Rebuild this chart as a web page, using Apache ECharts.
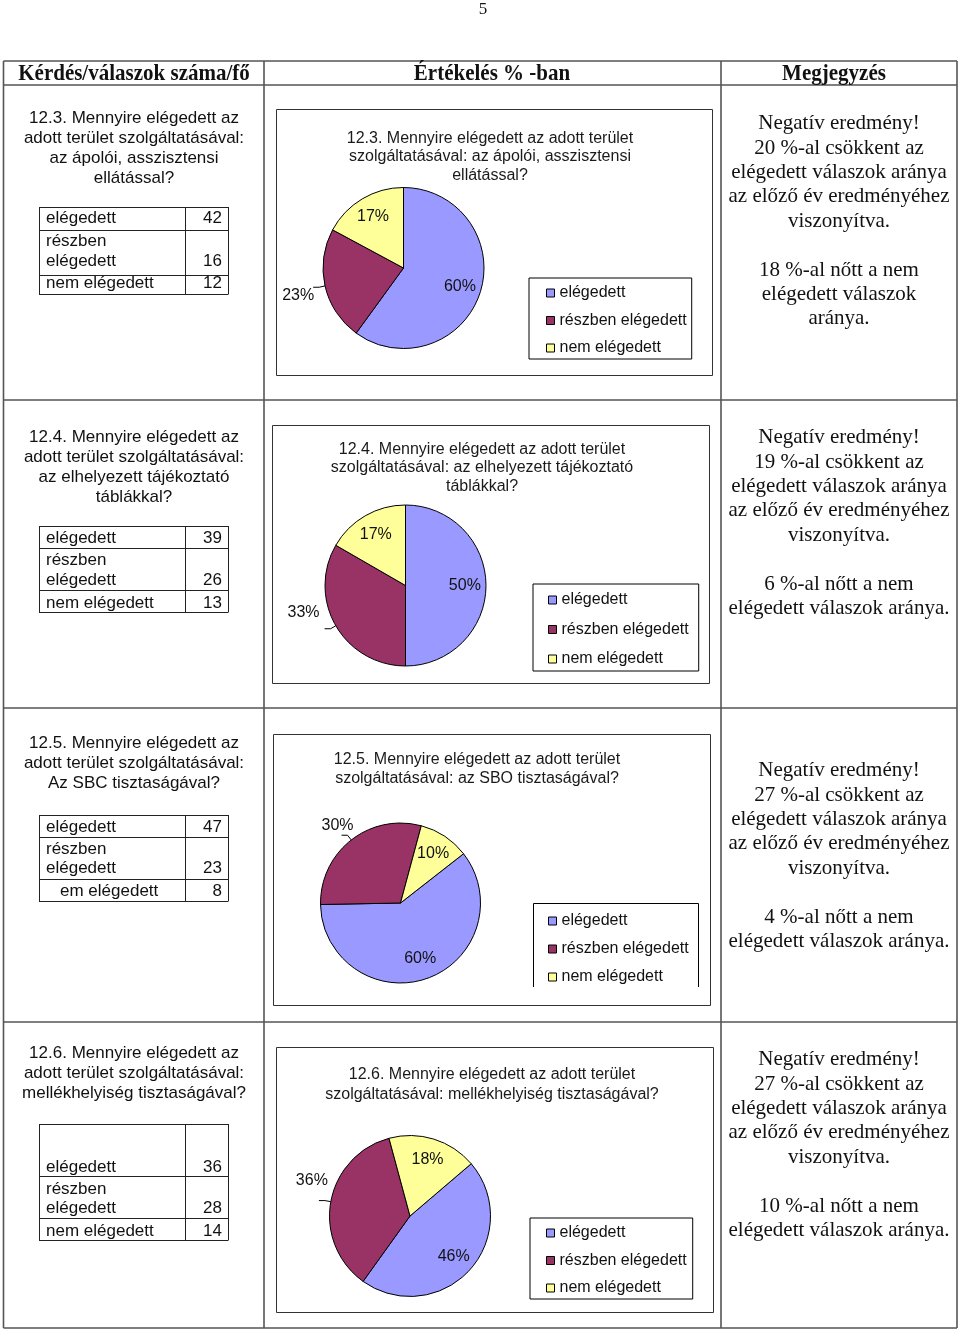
<!DOCTYPE html>
<html><head><meta charset="utf-8">
<script src="https://cdn.jsdelivr.net/npm/echarts@6/dist/echarts.min.js"></script>
<style>html,body{margin:0;padding:0;background:#fff}#c{width:960px;height:1332px}</style>
</head><body><div id="c"></div>
<script>
// ---------- DATA ----------
const categories = ['elégedett', 'részben elégedett', 'nem elégedett'];
const tableNames125 = ['elégedett', 'részben elégedett', 'em elégedett'];
const values123 = [42, 16, 12];
const values124 = [39, 26, 13];
const values125 = [47, 23, 8];
const values126 = [36, 28, 14];
const headers = ['Kérdés/válaszok száma/fő', 'Értékelés % -ban', 'Megjegyzés'];
const questions = [
  '12.3. Mennyire elégedett az\nadott terület szolgáltatásával:\naz ápolói, asszisztensi\nellátással?',
  '12.4. Mennyire elégedett az\nadott terület szolgáltatásával:\naz elhelyezett tájékoztató\ntáblákkal?',
  '12.5. Mennyire elégedett az\nadott terület szolgáltatásával:\nAz SBC tisztaságával?',
  '12.6. Mennyire elégedett az\nadott terület szolgáltatásával:\nmellékhelyiség tisztaságával?'
];
const chartTitles = [
  '12.3. Mennyire elégedett az adott terület\nszolgáltatásával: az ápolói, asszisztensi\nellátással?',
  '12.4. Mennyire elégedett az adott terület\nszolgáltatásával: az elhelyezett tájékoztató\ntáblákkal?',
  '12.5. Mennyire elégedett az adott terület\nszolgáltatásával: az SBO tisztaságával?',
  '12.6. Mennyire elégedett az adott terület\nszolgáltatásával: mellékhelyiség tisztaságával?'
];
const notes = [
  'Negatív eredmény!\n20 %-al csökkent az\nelégedett válaszok aránya\naz előző év eredményéhez\nviszonyítva.\n\n18 %-al nőtt a nem\nelégedett válaszok\naránya.',
  'Negatív eredmény!\n19 %-al csökkent az\nelégedett válaszok aránya\naz előző év eredményéhez\nviszonyítva.\n\n6 %-al nőtt a nem\nelégedett válaszok aránya.',
  'Negatív eredmény!\n27 %-al csökkent az\nelégedett válaszok aránya\naz előző év eredményéhez\nviszonyítva.\n\n4 %-al nőtt a nem\nelégedett válaszok aránya.',
  'Negatív eredmény!\n27 %-al csökkent az\nelégedett válaszok aránya\naz előző év eredményéhez\nviszonyítva.\n\n10 %-al nőtt a nem\nelégedett válaszok aránya.'
];
const pageNumber = '5';

// ---------- LAYOUT / STYLE ----------
const sliceColors = ['#9999FF', '#993366', '#FFFF99'];
const SANS = 'Liberation Sans, Arial, sans-serif';
const SERIF = 'Liberation Serif, Times New Roman, serif';
const rows = [
  { vals: values123, names: categories, cx: 403.5, cy: 268, r: 80.5, start: 90, ldx: 6, ldy: 8,
    frame: [276, 109, 436, 266], tx: 490, ty: 129, tlh: 18.5,
    lg: { left: 529, top: 278, pad: [7, 5, 3, 17], gap: 11.5, border: true },
    qTop: 108.5, tbl: [207, 230, 275, 294], txt: [218, 241, 261, 283], noteTop: 111.5, nameX3: 46 },
  { vals: values124, names: categories, cx: 405.5, cy: 585.5, r: 80.5, start: 90, ldx: 0, ldy: -16,
    frame: [272, 425, 437, 258], tx: 482, ty: 440, tlh: 18.5,
    lg: { left: 533, top: 584, pad: [8, 10, 4, 15], gap: 13.5, border: true },
    qTop: 427.5, tbl: [526, 548, 590, 612], txt: [538, 560, 580, 603], noteTop: 425.5, nameX3: 46 },
  { vals: values125, names: tableNames125, cx: 400.5, cy: 903, r: 80, start: 38, ldx: 17, ldy: -10,
    frame: [273, 734, 437, 271], tx: 477, ty: 750, tlh: 19,
    lg: { left: 533, top: 903, pad: [10, 10, 2, 15], gap: 12, border: false, h: 84 },
    qTop: 733.5, tbl: [815, 837, 879, 901], txt: [827, 849, 868, 891], noteTop: 758.5, nameX3: 60 },
  { vals: values126, names: categories, cx: 410, cy: 1216, r: 80.5, start: 40.5, ldx: 14, ldy: -20,
    frame: [276, 1047, 437, 265], tx: 492, ty: 1064.5, tlh: 20,
    lg: { left: 530, top: 1218, pad: [7, 6, 3, 16], gap: 11.5, border: true },
    qTop: 1043.5, tbl: [1124, 1176, 1218, 1240], txt: [1167, 1189, 1208, 1231], noteTop: 1047.5, nameX3: 46 }
];

const g = [];
function line(x1, y1, x2, y2, w, c) {
  g.push({ type: 'line', silent: true, z: 1, shape: { x1, y1, x2, y2 }, style: { stroke: c || '#444', lineWidth: w || 1 } });
}
function text(x, y, t, o, extra) {
  g.push(Object.assign({ type: 'text', silent: true, z: 5, x: x, y: y,
    style: Object.assign({ text: t, fill: '#111', align: 'center', textAlign: 'center',
      verticalAlign: 'top', textVerticalAlign: 'top' }, o) }, extra || {}));
}

// page number + header
text(483, 1, pageNumber, { fontSize: 17, fontFamily: SERIF });
const colCenters = [134, 492, 834];
headers.forEach((h, i) => text(colCenters[i], 62, h, { fontSize: 21, fontWeight: 'bold', fontFamily: SERIF, lineHeight: 22 },
  { scaleY: 1.08, originX: 0, originY: 0 }));

// main table grid
const tL = 3.5, tR = 957, tT = 61, tB = 1328;
[61, 85, 400, 708, 1022, 1328].forEach(y => line(tL, y, tR, y, 1.6, '#555'));
[tL, 264, 721, tR].forEach(x => line(x, tT, x, tB, 1.6, '#555'));

rows.forEach((rw, i) => {
  // question text (col 1)
  text(134, rw.qTop, questions[i], { fontSize: 17, fontFamily: SANS, lineHeight: 20 });
  // small table
  const [y0, y1, y2, y3] = rw.tbl;
  [y0, y1, y2, y3].forEach(y => line(39, y + 0.5, 228, y + 0.5, 1, '#222'));
  [39.5, 185.5, 228.5].forEach(x => line(x, y0, x, y3 + 0.5, 1, '#222'));
  const part = rw.names[1].split(' ');
  const tx = [[rw.names[0], rw.txt[0], 46], [part[0], rw.txt[1], 46], [part[1], rw.txt[2], 46], [rw.names[2], rw.txt[3], rw.nameX3]];
  tx.forEach(([s, y, x]) => text(x, y, s, { fontSize: 17, fontFamily: SANS, align: 'left', textAlign: 'left', verticalAlign: 'middle', textVerticalAlign: 'middle' }));
  [[rw.vals[0], rw.txt[0]], [rw.vals[1], rw.txt[2]], [rw.vals[2], rw.txt[3]]].forEach(([v, y]) =>
    text(222, y, String(v), { fontSize: 17, fontFamily: SANS, align: 'right', textAlign: 'right', verticalAlign: 'middle', textVerticalAlign: 'middle' }));
  // notes (col 3)
  text(839, rw.noteTop, notes[i], { fontSize: 21, fontFamily: SERIF, lineHeight: 24.4 });
  // chart frame
  const [fx, fy, fw, fh] = rw.frame;
  g.push({ type: 'rect', silent: true, z: 0, shape: { x: fx + 0.5, y: fy + 0.5, width: fw, height: fh }, style: { fill: '#fff', stroke: '#333', lineWidth: 1 } });
  // chart title
  text(rw.tx, rw.ty, chartTitles[i], { fontSize: 16, fontFamily: SANS, lineHeight: rw.tlh, fill: '#1a1a1a' });
  if (!rw.lg.border) {
    const L = rw.lg.left + 0.5, T = rw.lg.top + 0.5, R = 698.5, B = rw.lg.top + rw.lg.h;
    g.push({ type: 'polyline', silent: true, z: 6, shape: { points: [[L, B], [L, T], [R, T], [R, B]] }, style: { stroke: '#000', lineWidth: 1, fill: null } });
  }
});

const series = [];
rows.forEach((rw) => {
  series.push({
    type: 'pie', center: [rw.cx, rw.cy], radius: rw.r, startAngle: rw.start, clockwise: true,
    silent: true, animation: false, avoidLabelOverlap: false,
    label: { show: false }, labelLine: { show: false }, emphasis: { disabled: true },
    itemStyle: { borderColor: '#000', borderWidth: 1 },
    data: categories.map((n, k) => ({ name: n, value: rw.vals[k], itemStyle: { color: sliceColors[k] } }))
  });
  series.push({
    type: 'pie', center: [rw.cx, rw.cy], radius: [rw.r * 0.4, rw.r], startAngle: rw.start, clockwise: true,
    silent: true, animation: false, avoidLabelOverlap: false, legendHoverLink: false, percentPrecision: 0,
    emphasis: { disabled: true },
    itemStyle: { color: 'rgba(0,0,0,0)', borderWidth: 0 },
    label: { show: true, formatter: '{d}%', fontSize: 16, fontFamily: SANS, color: '#111' },
    labelLine: { length: 6, length2: 6, lineStyle: { color: '#000', width: 1 } },
    labelLayout: function (p) { return p.dataIndex === 1 ? { dx: rw.ldx, dy: rw.ldy } : {}; },
    data: categories.map((n, k) => ({ name: n, value: rw.vals[k],
      label: { position: k === 1 ? 'outside' : 'inside' }, labelLine: { show: k === 1 } }))
  });
});

const legends = rows.map(rw => ({
  data: categories, orient: 'vertical', left: rw.lg.left, top: rw.lg.top,
  padding: rw.lg.pad, itemGap: rw.lg.gap, itemWidth: 8, itemHeight: 8, icon: 'rect',
  selectedMode: false, z: 6,
  itemStyle: { borderColor: '#000', borderWidth: 1 },
  textStyle: { fontSize: 16, fontFamily: SANS, color: '#111' },
  borderColor: '#000', borderWidth: rw.lg.border ? 1 : 0, backgroundColor: '#fff'
}));

const chart = echarts.init(document.getElementById('c'), null, { renderer: 'canvas' });
chart.setOption({
  animation: false,
  backgroundColor: '#fff',
  legend: legends,
  series: series,
  graphic: { elements: g }
});
</script></body></html>
